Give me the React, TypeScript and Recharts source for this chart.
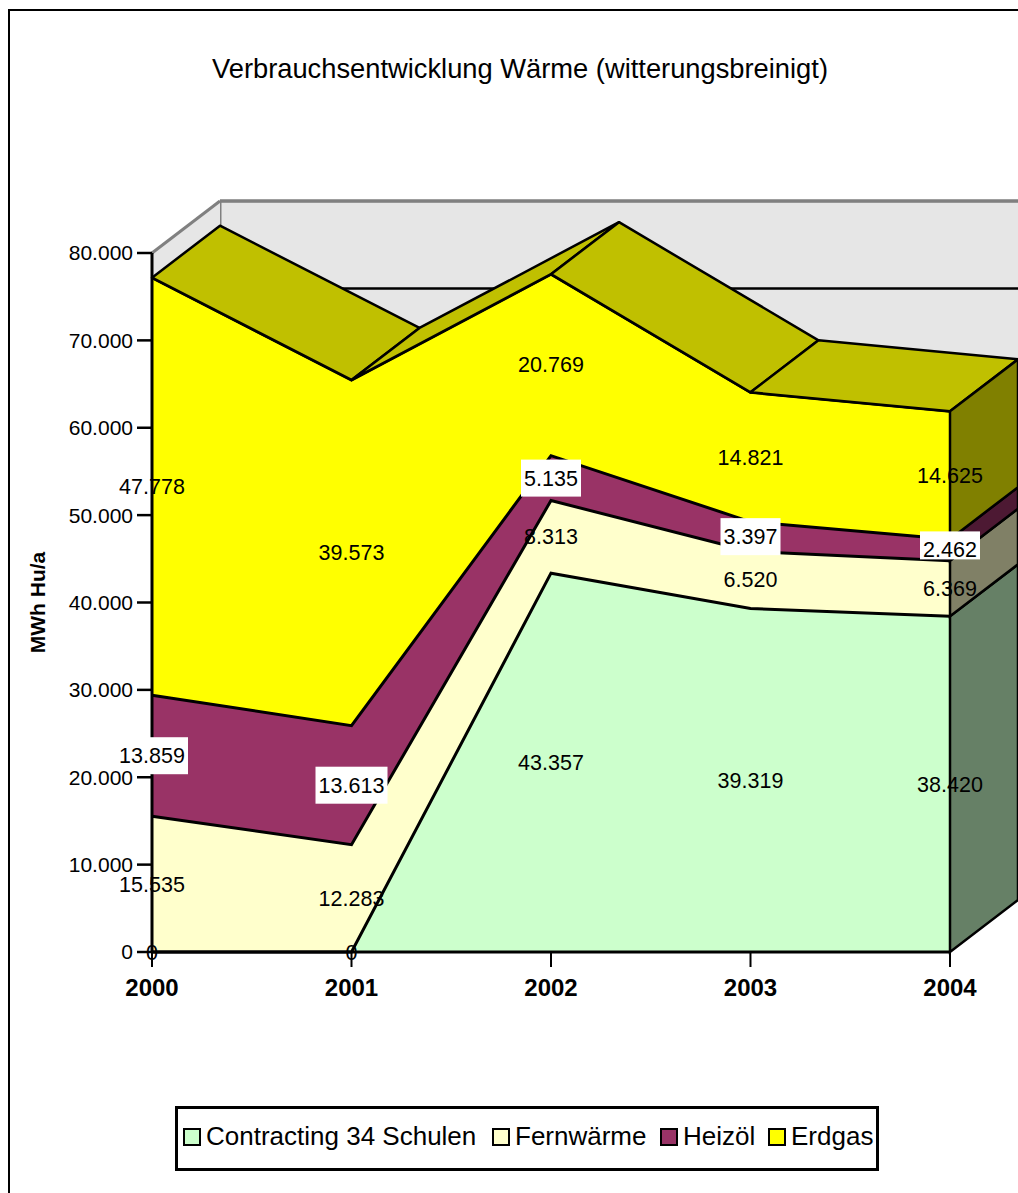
import React from 'react';
import {
  AreaChart,
  Area,
  XAxis,
  YAxis,
  CartesianGrid,
  Legend,
  ReferenceLine,
} from 'recharts';

const years = ['2000', '2001', '2002', '2003', '2004'];
const contracting = [0, 0, 43357, 39319, 38420];
const fernwaerme = [15535, 12283, 8313, 6520, 6369];
const heizoel = [13859, 13613, 5135, 3397, 2462];
const erdgas = [47778, 39573, 20769, 14821, 14625];
const yTicks = [0, 10000, 20000, 30000, 40000, 50000, 60000, 70000, 80000];

const names = ['Contracting 34 Schulen', 'Fernwärme', 'Heizöl', 'Erdgas'];
const frontColors = ['#CCFFCC', '#FFFFCC', '#993366', '#FFFF00'];
const sideColors = ['#668066', '#808066', '#4D1933', '#808000'];
const TOP_COLOR = '#C0C000';
const WALL_COLOR = '#E6E6E6';
const WALL_EDGE = '#808080';

const FONT = '"Liberation Sans", Arial, sans-serif';
const WIDTH = 1018;
const HEIGHT = 1193;
const DEPTH_X = 68;
const DEPTH_Y = 52;
const PLOT_BOTTOM = 952;
const PLOT_HEIGHT = 699;

// stacked values plus the middle of each band, the value labels hang on those
const data = years.map((year, i) => {
  const a = contracting[i];
  const b = a + fernwaerme[i];
  const c = b + heizoel[i];
  const d = c + erdgas[i];
  return {
    year,
    contracting: a,
    fernwaerme: fernwaerme[i],
    heizoel: heizoel[i],
    erdgas: erdgas[i],
    low0: 0,
    low1: a,
    low2: b,
    low3: c,
    top0: a,
    top1: b,
    top2: c,
    top3: d,
    mid0: a / 2,
    mid1: a + fernwaerme[i] / 2,
    mid2: b + heizoel[i] / 2,
    mid3: c + erdgas[i] / 2,
  };
});

const fmt = (v: number) => String(v).replace(/\B(?=(\d{3})+$)/g, '.');

const poly = (pts: number[][]) => pts.map((p) => p.join(',')).join(' ');

// right hand side wall of one band, drawn from the last point of its area
const sideDot = (seriesIndex: number) => (props: any) => {
  const { cx, cy, index, payload, key } = props;
  if (index !== years.length - 1) return <g key={key ?? index} />;
  const high = payload[`top${seriesIndex}`];
  const low = payload[`low${seriesIndex}`];
  const lowY = PLOT_BOTTOM - ((PLOT_BOTTOM - cy) * low) / high;
  return (
    <polygon
      key={key ?? index}
      points={poly([
        [cx, cy],
        [cx + DEPTH_X, cy - DEPTH_Y],
        [cx + DEPTH_X, lowY - DEPTH_Y],
        [cx, lowY],
      ])}
      fill={sideColors[seriesIndex]}
      stroke="#000"
      strokeWidth={2.5}
    />
  );
};

// top face of the stack: one parallelogram per segment, plus the side wall
const topDot = (props: any) => {
  const { cx, cy, index, points, key } = props;
  const next = points && points[index + 1];
  if (!next) return sideDot(3)(props);
  return (
    <polygon
      key={key ?? index}
      points={poly([
        [cx, cy],
        [cx + DEPTH_X, cy - DEPTH_Y],
        [next.x + DEPTH_X, next.y - DEPTH_Y],
        [next.x, next.y],
      ])}
      fill={TOP_COLOR}
      stroke="#000"
      strokeWidth={2.5}
      strokeLinejoin="round"
    />
  );
};

const valueLabel = (source: number[], boxed: boolean) => (props: any) => {
  const { cx, cy, index, key } = props;
  const text = fmt(source[index]);
  const w = text.length * 12;
  // the box of the last Heizöl label is cut short in the original
  const h = text === '2.462' ? 28 : 37;
  return (
    <g key={key ?? index}>
      {boxed && <rect x={cx - w / 2} y={cy - 18.5} width={w} height={h} fill="#fff" />}
      <text x={cx} y={cy} dy="0.35em" textAnchor="middle" fontFamily={FONT} fontSize={21.5} fill="#000">
        {text}
      </text>
    </g>
  );
};

const YearTick = (props: any) => {
  const { x, y, payload } = props;
  return (
    <text x={x} y={y + 2} dy="0.8em" textAnchor="middle" fontFamily={FONT} fontSize={24} fontWeight="bold" fill="#000">
      {payload.value}
    </text>
  );
};

// left wall of the box, hung on the top tick of the back chart
const WallTick = (props: any) => {
  const { x, y, payload } = props;
  if (payload.value !== 80000) return <g />;
  return (
    <g>
      <polygon
        points={poly([
          [x, y],
          [x - DEPTH_X, y + DEPTH_Y],
          [x - DEPTH_X, y + DEPTH_Y + PLOT_HEIGHT],
          [x, y + PLOT_HEIGHT],
        ])}
        fill={WALL_COLOR}
      />
      <line x1={x} y1={y} x2={x - DEPTH_X} y2={y + DEPTH_Y} stroke={WALL_EDGE} strokeWidth={3} />
    </g>
  );
};

const legendPositions = [5, 314, 482, 590];

const LegendBox = () => (
  <div
    style={{
      position: 'relative',
      boxSizing: 'border-box',
      width: 704,
      height: 65,
      border: '3px solid #000',
      background: '#fff',
      fontFamily: FONT,
      fontSize: 26,
      color: '#000',
    }}
  >
    {names.map((name, i) => (
      <div key={name} style={{ position: 'absolute', left: legendPositions[i], top: 12, whiteSpace: 'nowrap' }}>
        <span
          style={{
            display: 'inline-block',
            boxSizing: 'border-box',
            width: 18,
            height: 18,
            border: '2px solid #000',
            background: frontColors[i],
            marginRight: 5,
            verticalAlign: -1,
          }}
        />
        {name}
      </div>
    ))}
  </div>
);

export default function App() {
  const plotMargin = { top: 253, right: DEPTH_X, left: 151, bottom: HEIGHT - PLOT_BOTTOM };
  return (
    <div style={{ position: 'absolute', left: 0, top: 0, width: WIDTH, height: HEIGHT, overflow: 'hidden', background: '#fff' }}>
      <div style={{ position: 'absolute', left: 8, top: 9, width: 1100, height: 1300, border: '2px solid #000' }} />

      {/* back wall: same plot, moved back by the depth of the box */}
      <div style={{ position: 'absolute', left: DEPTH_X, top: -DEPTH_Y }}>
        <AreaChart width={WIDTH} height={HEIGHT} data={data} margin={plotMargin}>
          <CartesianGrid vertical={false} fill={WALL_COLOR} stroke="#000" strokeWidth={2.5} />
          <XAxis dataKey="year" hide />
          <YAxis
            width={1}
            domain={[0, 80000]}
            ticks={yTicks}
            interval={0}
            axisLine={false}
            tickLine={false}
            tickSize={0}
            tickMargin={0}
            tick={<WallTick />}
          />
          <Area dataKey="top3" legendType="none" stroke="none" fill="none" dot={false} activeDot={false} isAnimationActive={false} />
          <ReferenceLine y={80000} stroke={WALL_EDGE} strokeWidth={3} />
          <ReferenceLine x="2000" stroke={WALL_EDGE} strokeWidth={3} />
        </AreaChart>
      </div>

      <div style={{ position: 'absolute', left: 0, top: 0 }}>
        <AreaChart
          width={WIDTH}
          height={HEIGHT}
          data={data}
          margin={{ top: 253, right: DEPTH_X, left: 20, bottom: HEIGHT - PLOT_BOTTOM - 60 }}
        >
          <text x={520} y={78} textAnchor="middle" fontFamily={FONT} fontSize={27.3} fill="#000">
            Verbrauchsentwicklung Wärme (witterungsbreinigt)
          </text>
          <XAxis
            dataKey="year"
            height={60}
            interval={0}
            stroke="#000"
            strokeWidth={3}
            tickSize={15}
            tickMargin={8}
            tick={<YearTick />}
            tickLine={{ stroke: '#000', strokeWidth: 2 }}
          />
          <YAxis
            width={132}
            domain={[0, 80000]}
            ticks={yTicks}
            interval={0}
            stroke="#000"
            strokeWidth={3}
            tickSize={15}
            tickMargin={4}
            tickFormatter={fmt}
            tick={{ fontFamily: FONT, fontSize: 21, fill: '#000' }}
            tickLine={{ stroke: '#000', strokeWidth: 2.5 }}
            label={{
              value: 'MWh Hu/a',
              angle: -90,
              position: 'insideLeft',
              offset: 18,
              style: { fontFamily: FONT, fontSize: 21, fontWeight: 'bold', fill: '#000', textAnchor: 'middle' },
            }}
          />
          <Legend
            verticalAlign="middle"
            align="center"
            layout="horizontal"
            content={<LegendBox />}
            wrapperStyle={{ left: 175, top: 1106, width: 704 }}
          />
          <Area dataKey="contracting" name={names[0]} stackId="w" stroke="none" fill={frontColors[0]} fillOpacity={1} dot={sideDot(0)} activeDot={false} isAnimationActive={false} />
          <Area dataKey="fernwaerme" name={names[1]} stackId="w" stroke="none" fill={frontColors[1]} fillOpacity={1} dot={sideDot(1)} activeDot={false} isAnimationActive={false} />
          <Area dataKey="heizoel" name={names[2]} stackId="w" stroke="none" fill={frontColors[2]} fillOpacity={1} dot={sideDot(2)} activeDot={false} isAnimationActive={false} />
          <Area dataKey="erdgas" name={names[3]} stackId="w" stroke="none" fill={frontColors[3]} fillOpacity={1} dot={topDot} activeDot={false} isAnimationActive={false} />

          {/* outlines go over all fills, otherwise the next band hides half of each line */}
          <Area dataKey="top0" legendType="none" stroke="#000" strokeWidth={3} fill="none" dot={false} activeDot={false} isAnimationActive={false} />
          <Area dataKey="top1" legendType="none" stroke="#000" strokeWidth={3} fill="none" dot={false} activeDot={false} isAnimationActive={false} />
          <Area dataKey="top2" legendType="none" stroke="#000" strokeWidth={3} fill="none" dot={false} activeDot={false} isAnimationActive={false} />
          <Area dataKey="top3" legendType="none" stroke="#000" strokeWidth={3} fill="none" dot={false} activeDot={false} isAnimationActive={false} />

          <Area dataKey="mid0" legendType="none" stroke="none" fill="none" dot={valueLabel(contracting, false)} activeDot={false} isAnimationActive={false} />
          <Area dataKey="mid1" legendType="none" stroke="none" fill="none" dot={valueLabel(fernwaerme, false)} activeDot={false} isAnimationActive={false} />
          <Area dataKey="mid2" legendType="none" stroke="none" fill="none" dot={valueLabel(heizoel, true)} activeDot={false} isAnimationActive={false} />
          <Area dataKey="mid3" legendType="none" stroke="none" fill="none" dot={valueLabel(erdgas, false)} activeDot={false} isAnimationActive={false} />
        </AreaChart>
      </div>
    </div>
  );
}
